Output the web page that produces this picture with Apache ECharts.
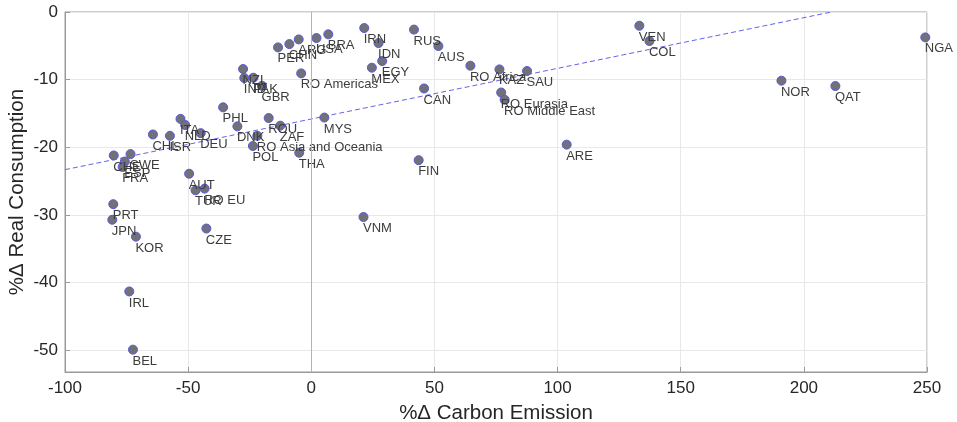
<!DOCTYPE html>
<html>
<head>
<meta charset="utf-8">
<script src="https://cdn.jsdelivr.net/npm/echarts@6/dist/echarts.min.js"></script>
<style>html,body{margin:0;padding:0;background:#fff;}#c{width:957px;height:422px;}</style>
</head>
<body>
<div id="c"></div>
<script>
const names = ['BRA','USA','ARG','CHN','PER','RO Americas','NZL','IND','PAK','GBR','PHL','ROU','ZAF','DNK','RO Asia and Oceania','POL','THA','MYS','ITA','NLD','DEU','CHL','ISR','CHE','SWE','ESP','FRA','AUT','TUR','RO EU','PRT','JPN','KOR','CZE','IRL','BEL','IRN','IDN','EGY','MEX','RUS','AUS','RO Africa','CAN','KAZ','SAU','RO Eurasia','RO Middle East','FIN','ARE','VEN','COL','NOR','QAT','NGA','VNM'];
const carbon = [6.9,2.1,-5.1,-8.9,-13.5,-4.1,-27.7,-27.2,-23.5,-20.0,-35.8,-17.3,-12.6,-30.0,-21.9,-23.7,-4.9,5.3,-53.1,-51.2,-44.9,-64.3,-57.4,-80.2,-73.4,-75.7,-76.6,-49.6,-47.0,-43.3,-80.4,-80.8,-71.2,-42.6,-73.9,-72.4,21.5,27.3,28.8,24.6,41.7,51.6,64.6,45.8,76.4,87.6,77.1,78.5,43.6,103.7,133.2,137.3,190.9,212.8,249.3,21.2];
const consumption = [-3.3,-3.85,-4.05,-4.74,-5.23,-9.07,-8.43,-9.76,-9.71,-10.9,-14.09,-15.67,-16.8,-16.9,-18.3,-19.8,-20.8,-15.6,-15.8,-16.7,-17.9,-18.1,-18.3,-21.2,-21.0,-22.1,-22.9,-23.9,-26.35,-26.1,-28.4,-30.7,-33.2,-32.0,-41.3,-49.9,-2.37,-4.59,-7.25,-8.23,-2.6,-5.03,-7.94,-11.3,-8.48,-8.72,-11.9,-12.96,-21.9,-19.6,-2.03,-4.29,-10.15,-10.94,-3.75,-30.3];
const fitX = [-100, 211.2];
const fitY = [-23.3, 0];
const xTicks = [-100, -50, 0, 50, 100, 150, 200, 250];
const yTicks = [-50, -40, -30, -20, -10, 0];

const pts = names.map((n, i) => ({ name: n, value: [carbon[i], consumption[i]] }));
const fit = fitX.map((x, i) => [x, fitY[i]]);

const chart = echarts.init(document.getElementById('c'), null, { renderer: 'canvas' });
const axisCol = '#9a9a9a';
const txtCol = '#262626';
chart.setOption({
  animation: false,
  grid: { left: 65, right: 30, top: 12, bottom: 50, outerBoundsMode: 'none', containLabel: false, show: true, borderColor: axisCol, borderWidth: 1, backgroundColor: '#fff' },
  xAxis: {
    type: 'value', min: xTicks[0], max: xTicks[xTicks.length - 1], interval: 50,
    name: '%\u0394 Carbon Emission', nameLocation: 'middle', nameGap: 30.5, nameMoveOverlap: false,
    nameTextStyle: { fontFamily: 'Liberation Sans', fontSize: 20.5, color: txtCol },
    axisLine: { show: true, onZero: false, lineStyle: { color: axisCol } },
    axisTick: { show: true, inside: true, length: 5, lineStyle: { color: axisCol } },
    axisLabel: { fontFamily: 'Liberation Sans', fontSize: 17, color: txtCol, margin: 8 },
    splitLine: { show: true, lineStyle: { color: '#e8e8e8', width: 1 } }
  },
  yAxis: {
    type: 'value', min: -53.2, max: 0, minInterval: 10, maxInterval: 10,
    name: '%\u0394 Real Consumption', nameLocation: 'middle', nameGap: 37, nameMoveOverlap: false,
    nameTextStyle: { fontFamily: 'Liberation Sans', fontSize: 20.5, color: txtCol },
    axisLine: { show: true, onZero: false, lineStyle: { color: axisCol } },
    axisTick: { show: true, inside: true, length: 5, lineStyle: { color: axisCol } },
    axisLabel: { fontFamily: 'Liberation Sans', fontSize: 17, color: txtCol, margin: 7, showMinLabel: false,
      formatter: v => (yTicks.indexOf(Math.round(v)) >= 0 && Math.abs(v - Math.round(v)) < 1e-6) ? String(Math.round(v)) : '' },
    splitLine: { show: true, lineStyle: { color: '#e8e8e8', width: 1 } }
  },
  series: [
    {
      type: 'line', data: fit, symbol: 'none', silent: true,
      lineStyle: { color: '#6464e6', width: 1, type: [5, 3] },
      markLine: {
        silent: true, symbol: 'none', label: { show: false },
        lineStyle: { color: '#b4b4b4', width: 1, type: 'solid' },
        data: [{ xAxis: 0 }]
      },
      z: 3
    },
    {
      type: 'scatter', data: pts, symbol: 'circle', symbolSize: 9,
      itemStyle: { color: '#717178', borderColor: '#5858d8', borderWidth: 1, opacity: 1 },
      label: {
        show: true, formatter: p => p.name, position: [4.5, 16.5], align: 'left', verticalAlign: 'middle',
        fontFamily: 'Liberation Sans', fontSize: 13, color: '#3c3c3c'
      },
      labelLayout: { hideOverlap: false },
      z: 4
    }
  ]
});
</script>
</body>
</html>
